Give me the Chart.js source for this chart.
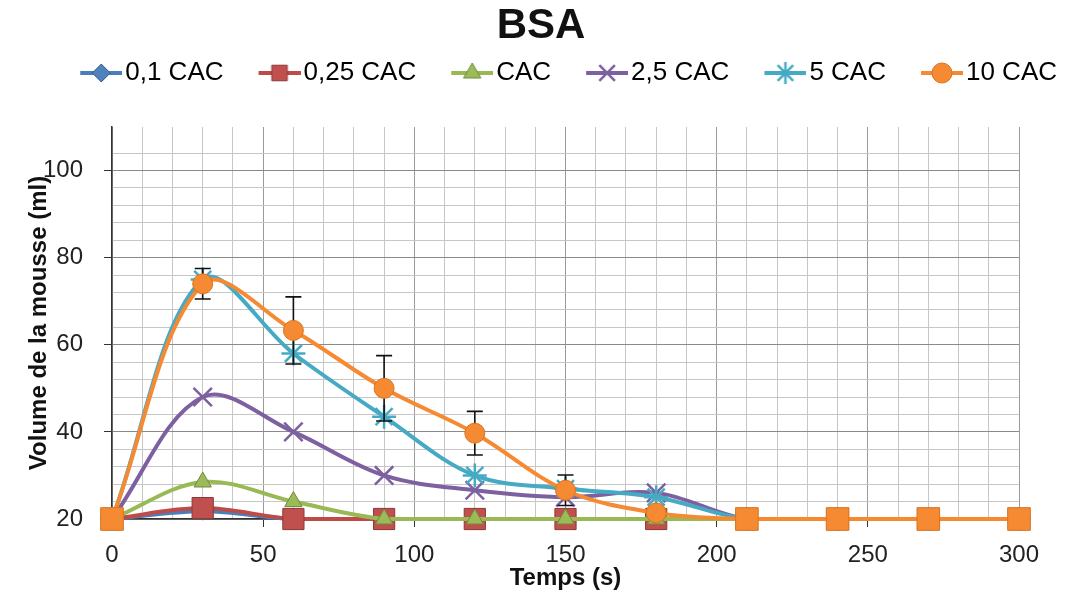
<!DOCTYPE html>
<html>
<head>
<meta charset="utf-8">
<script src="https://cdn.jsdelivr.net/npm/chart.js@4.4.3/dist/chart.umd.min.js"></script>
<style>
  html, body { margin: 0; padding: 0; background: #fff; }
  #wrap { width: 1082px; height: 594px; }
</style>
</head>
<body>
<div id="wrap"><canvas id="bsaChart" width="1082" height="594"></canvas></div>
<script>
// foam volume (ml) over time (s), one series per concentration
const times = [0, 30, 60, 90, 120, 150, 180, 210, 240, 270, 300];
const seriesNames = ['0,1 CAC', '0,25 CAC', 'CAC', '2,5 CAC', '5 CAC', '10 CAC'];
const vol01CAC = [20, 21.8, 20, 20, 20, 20, 20, 20, 20, 20, 20];
const vol025CAC = [20, 22.5, 20, 20, 20, 20, 20, 20, 20, 20, 20];
const volCAC = [20, 28.5, 24, 20, 20, 20, 20, 20, 20, 20, 20];
const vol25CAC = [20, 48, 40, 30, 26.6, 25, 26, 20, 20, 20, 20];
const vol5CAC = [20, 75, 58, 43.5, 30, 27, 25, 20, 20, 20, 20];
const vol10CAC = [20, 74, 63.3, 50, 39.7, 26.6, 21.4, 20, 20, 20, 20];
const err10CAC = [0, 3.5, 7.7, 7.5, 5, 3.5, 0, 0, 0, 0, 0];
const xTickLabels = [0, 50, 100, 150, 200, 250, 300];
const yTickLabels = [20, 40, 60, 80, 100];

const FONT = "'Liberation Sans', Arial, sans-serif";

const styles = [
    { line: '#4A7EBB', fill: '#4F81BD', edge: '#385D8A', point: 'rectRot', r: 9, bw: 1 },
    { line: '#BE4B48', fill: '#C0504D', edge: '#8C3836', point: 'rect', r: 15, bw: 1 },
    { line: '#98B954', fill: '#9BBB59', edge: '#71893F', point: 'triangle', r: 10, bw: 1 },
    { line: '#7D60A0', fill: '#7D60A0', edge: '#6A4E8C', point: 'crossRot', r: 13, bw: 2.5 },
    { line: '#46AAC5', fill: '#46AAC5', edge: '#3A93AC', point: 'star', r: 12, bw: 2.5 },
    { line: '#F58A33', fill: '#F58A33', edge: '#D9741F', point: 'circle', r: 10, bw: 1 }
];
const allValues = [vol01CAC, vol025CAC, volCAC, vol25CAC, vol5CAC, vol10CAC];

function toPoints(values) {
    return times.map((t, i) => ({ x: t, y: values[i] }));
}

// legend sample: short line with the marker in its middle
function legendSample(st) {
    const c = document.createElement('canvas');
    c.width = 62;
    c.height = 26;
    const ctx = c.getContext('2d');
    ctx.strokeStyle = st.line;
    ctx.lineWidth = 4;
    ctx.beginPath();
    ctx.moveTo(20, 13);
    ctx.lineTo(62, 13);
    ctx.stroke();
    ctx.fillStyle = st.fill;
    ctx.strokeStyle = st.point === 'crossRot' || st.point === 'star' ? st.line : st.edge;
    ctx.lineWidth = st.bw;
    Chart.helpers.drawPoint(ctx, { pointStyle: st.point, radius: Math.min(st.r, 11), borderWidth: st.bw }, 41, 13);
    return c;
}

const datasets = allValues.map((vals, i) => {
    const st = styles[i];
    const ds = {
        label: seriesNames[i],
        data: toPoints(vals),
        borderColor: st.line,
        borderWidth: 4,
        backgroundColor: st.fill,
        pointBackgroundColor: st.fill,
        pointBorderColor: st.point === 'crossRot' || st.point === 'star' ? st.line : st.edge,
        pointBorderWidth: st.bw,
        pointStyle: st.point,
        pointRadius: st.r,
        pointHoverRadius: st.r,
        tension: 0.35,
        fill: false,
        clip: false,
        yAxisID: 'y',
        order: 5 - i
    };
    if (i === 5) {
        // resting points of the 10 CAC series use square markers
        ds.pointStyle = ctx => (ctx.raw && ctx.raw.y === 20 ? 'rect' : 'circle');
        ds.pointRadius = ctx => (ctx.raw && ctx.raw.y === 20 ? 16 : 10);
    }
    return ds;
});

// vertical error bars on the 10 CAC series, drawn just under its line
const errorBars = {
    id: 'errorBars',
    beforeDatasetDraw(chart, args) {
        if (args.index !== 5) return;
        const { ctx, scales: { x, y } } = chart;
        ctx.save();
        ctx.strokeStyle = '#111';
        ctx.lineWidth = 1.6;
        times.forEach((t, i) => {
            const e = err10CAC[i];
            if (!e) return;
            const px = x.getPixelForValue(t);
            const top = y.getPixelForValue(vol10CAC[i] + e);
            const bot = y.getPixelForValue(vol10CAC[i] - e);
            ctx.beginPath();
            ctx.moveTo(px, top); ctx.lineTo(px, bot);
            ctx.moveTo(px - 8, top); ctx.lineTo(px + 8, top);
            ctx.moveTo(px - 8, bot); ctx.lineTo(px + 8, bot);
            ctx.stroke();
        });
        ctx.restore();
    }
};

const isMajorY = v => yTickLabels.includes(Math.round(v * 100) / 100);
const isMajorX = v => xTickLabels.includes(Math.round(v));

new Chart(document.getElementById('bsaChart'), {
    type: 'line',
    data: { datasets: datasets },
    plugins: [errorBars],
    options: {
        responsive: false,
        animation: false,
        layout: { padding: 0 },
        plugins: {
            title: {
                display: true,
                text: 'BSA',
                color: '#111',
                font: { family: FONT, size: 42, weight: 'bold', lineHeight: '18px' },
                padding: { top: 17, bottom: 0 }
            },
            subtitle: {
                // empty band between the legend and the plot
                display: true,
                text: '',
                weight: 500,
                padding: 0,
                font: { size: 10, lineHeight: '31px' }
            },
            legend: {
                display: true,
                position: 'top',
                align: 'end',
                labels: {
                    usePointStyle: true,
                    pointStyleWidth: 42,
                    padding: 25,
                    color: '#222',
                    font: { family: FONT, size: 26 },
                    generateLabels: chart => chart.data.datasets.map((ds, i) => ({
                        text: ds.label,
                        pointStyle: legendSample(styles[i]),
                        fillStyle: styles[i].fill,
                        strokeStyle: styles[i].line,
                        lineWidth: 0,
                        datasetIndex: i,
                        hidden: false
                    }))
                }
            },
            tooltip: { enabled: false }
        },
        scales: {
            x: {
                type: 'linear',
                min: 0,
                max: 300,
                afterFit: s => { s.height = 75; },
                border: { color: '#333', width: 1.5 },
                grid: {
                    color: c => (isMajorX(c.tick.value) ? '#9A9A9A' : '#C6C6C6'),
                    lineWidth: 1,
                    drawTicks: true,
                    tickLength: 8,
                    tickColor: c => (isMajorX(c.tick.value) ? '#333' : 'rgba(0,0,0,0)')
                },
                ticks: {
                    stepSize: 10,
                    autoSkip: false,
                    maxRotation: 0,
                    padding: 14,
                    color: '#222',
                    font: { family: FONT, size: 24 },
                    callback: v => (isMajorX(v) ? String(v) : '')
                },
                title: {
                    display: true,
                    text: 'Temps (s)',
                    color: '#111',
                    font: { family: FONT, size: 24, weight: 'bold' },
                    padding: { top: 0, bottom: 1 }
                }
            },
            y: {
                type: 'linear',
                position: 'left',
                min: 20,
                max: 110,
                afterFit: s => { s.width = 112; },
                border: { color: '#333', width: 1.5 },
                grid: {
                    color: c => (c.tick.value > 108 ? 'rgba(0,0,0,0)' : isMajorY(c.tick.value) ? '#8A8A8A' : '#C6C6C6'),
                    lineWidth: 1,
                    drawTicks: true,
                    tickLength: 8,
                    tickColor: c => (isMajorY(c.tick.value) ? '#333' : 'rgba(0,0,0,0)')
                },
                ticks: {
                    stepSize: 4,
                    autoSkip: false,
                    padding: 21,
                    color: '#222',
                    font: { family: FONT, size: 24 },
                    callback: v => (isMajorY(v) ? String(v) : '')
                },
                title: {
                    display: true,
                    text: 'Volume de la mousse (ml)',
                    color: '#111',
                    font: { family: FONT, size: 24, weight: 'bold' },
                    padding: { top: 25, bottom: 0 }
                }
            },
            // blank margin on the right of the plot
            yRight: {
                type: 'linear',
                position: 'right',
                min: 0,
                max: 1,
                afterFit: s => { s.width = 63; },
                grid: { display: false, drawTicks: false },
                border: { display: false },
                ticks: { display: false }
            }
        }
    }
});
</script>
</body>
</html>
